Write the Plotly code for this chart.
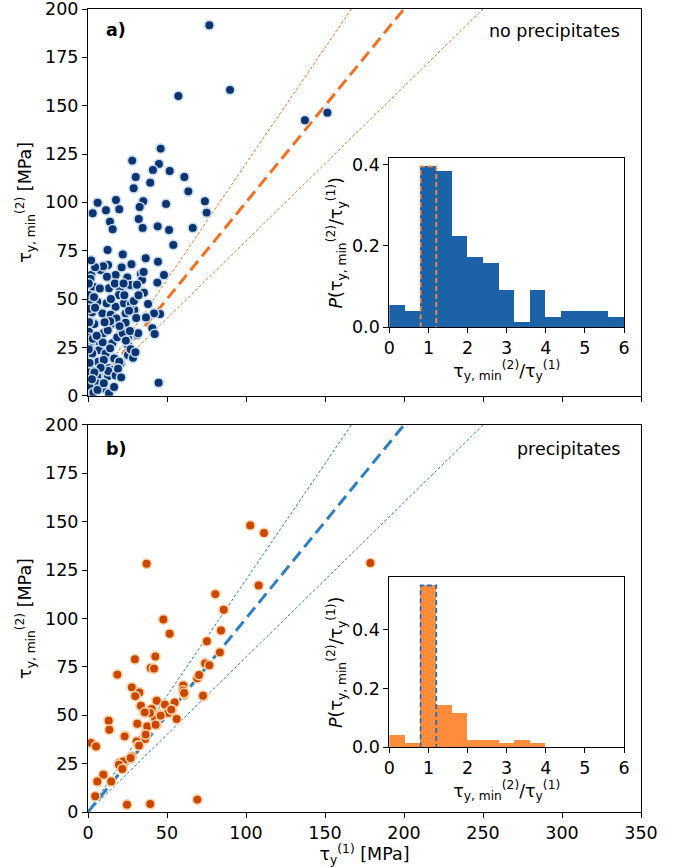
import plotly.graph_objects as go

# ---------------- data ----------------
# panel a) no precipitates
a_x = [76.8, 57.2, 89.9, 137.3, 151.5, 46, 28, 44.9, 41.1, 51.7, 30.2, 61, 39.4, 28.9, 63.5,
       6.1, 17.7, 35, 32.7, 11.4, 19.8, 3, 49.4, 74, 75.1, 32.1, 13.9, 44.1, 66.3, 15.6, 34.6,
       51.3, 54, 12.4, 22, 36.5,
       2.1, 8, 12.7, 21.3, 17.5, 24.9, 33.5, 44.3, 48.1, 43.9, 3.4, 13.3, 20.3, 19.6, 27, 35.4,
       5.9, 1.3, 11.8, 17.5, 22.8, 29.1, 23.8, 2.5, 9.1, 36.5, 45.6, 41.8, 4.2, 16, 23.8, 40.7,
       42.2, 31.2, 0.6, 9.7, 21.1, 25.3, 2.1, 7.6, 15.4, 18.5, 25.3, 7, 1.7, 11.2, 16.5, 25.3,
       20.7, 6.3, 13.3, 15.4, 5.9, 11.8, 1.7, 9.1, 3.4, 13.3, 44.7, 1.5, 34.2, 26.6, 14.4, 29.3,
       36.7, 4, 22, 1.1, 31.8, 9.3, 2.7, 6.5, 16.6, 19.8, 12.7, 12.8, 6.5, 27.2, 0.9, 1.2,
       0.5, 0.8, 1.0, 0.7, 1.2, 0.5, 1.0, 0.6, 3.8, 4.5, 9.6, 35.2, 14.5, 18, 20, 26.5, 24,
       27, 28.5, 14, 10, 8, 4, 17.5, 19, 3, 5.5, 12.5, 14, 10.5, 7.5, 23, 29, 32, 30.5, 31,
       38, 26, 17, 22.5, 4.5, 2, 27.5, 12, 30, 6, 10, 16.5, 2.5, 21]
a_y = [191.6, 155, 158.2, 142.5, 146.4, 127.8, 121.6, 119.9, 116.8, 116.2, 113.1, 113.1, 110.2,
       107.3, 105.7, 99.8, 101.2, 100.6, 97.6, 95.9, 96.4, 94.4, 99.2, 100.6, 94.7, 91.4, 90,
       87.6, 86.8, 86.1, 86.8, 85.7, 78, 75.4, 73.1, 71.1,
       62.4, 65, 67.6, 66.4, 62.4, 61.2, 63, 69.3, 62.4, 58.5, 56.4, 55.6, 55.6, 52.1, 56.8, 53.3,
       48.6, 47.8, 47.8, 46, 47.8, 44.3, 42.6, 43.1, 42.6, 40.5, 42.3, 42.6, 37.4, 37.4, 37.8,
       34.9, 31.9, 31.4, 33.1, 32.3, 32.6, 30.2, 27.9, 27.4, 27.1, 30.2, 26.2, 23.6, 21.1, 21.9,
       19.3, 21.1, 16.8, 17.1, 14.2, 13.3, 9.8, 10.7, 5, 3.8, 1.6, 1.2, 6.7, 60.5, 59.9, 57.3,
       41.9, 44.3, 40.5, 37.1, 32.3, 38.5, 32.3, 27.6, 21.9, 17.6, 19.3, 17.6, 10.2, 12.8, 6.4,
       47.4, 25.0, 14.0,
       58, 52, 45, 38, 30, 24, 17, 12, 51, 45.5, 67, 64, 50, 40, 36, 33.5, 28.5,
       24, 19.6, 24.5, 18.5, 14.5, 12, 10.5, 14, 29.5, 31, 33.8, 38.5, 38, 55.5, 52, 49, 52,
       40.2, 57.4, 47.4, 44, 58, 58, 66.5, 70, 68, 61.5, 22.5, 3, 6.5, 4.5, 8.5, 9.5]

# panel b) precipitates
b_x = [102.7, 111.4, 37.1, 108, 80.6, 85.9, 47.7, 51.7, 84.2, 75.3, 83.5, 29.7, 42.6, 39.7,
       41.8, 74.1, 76.8, 18.6, 69.2, 70.3, 60.3, 61, 60.3, 27.7, 32.5, 29.9, 73, 43.5, 33.4,
       35.6, 48.7, 54.9, 50.8, 53.2, 40.3, 45.1, 42.4, 39.2, 56.1, 43.5, 31.2, 37.1, 13.1, 13.5,
       23.4, 36.7, 36.1, 30.8, 31.8, 1.9, 5.1, 27.7, 26.6, 19.8, 22.3, 22, 9.7, 14.7, 5.9, 4.6,
       24.7, 39.4, 69.2, 178.7, 33.5, 52.7, 37.5, 42.8, 23.2, 36.5, 32.3, 27, 19.6, 21.7, 60.8,
       72.8, 35.9, 46]
b_y = [148.1, 144.2, 128.3, 117.1, 112.6, 104.5, 99.5, 92.1, 93.8, 88.2, 82.5, 78.9, 80.4, 74.4,
       74.1, 76.8, 75.8, 71, 69.1, 70.8, 65.4, 60.6, 62.8, 64.4, 61.8, 59.9, 59.9, 57.5, 54.6,
       51.2, 55.5, 56.6, 51.2, 52.9, 53.2, 50.3, 48.6, 51.2, 48.1, 45.1, 45.6, 44.2, 47.2, 42.5,
       39.4, 40.8, 37.7, 36.5, 34.4, 35.7, 33.9, 28.7, 27.4, 25.3, 26.1, 22.7, 19.3, 15.8, 15.8,
       8.1, 3.8, 4.1, 6.4, 128.7, 54.9, 52.9, 44.2, 45.1, 39.1, 40, 34.3, 27.9, 24.4, 22.2, 61.5,
       60.1, 51.5, 49.8]

# reference lines y = s * x
ref_slopes = [0.8, 1.0, 1.2]
ref_x = [0, 350]

# histograms of the ratio (bin width 0.4, 0..6)
bin_edges = [0, 0.4, 0.8, 1.2, 1.6, 2.0, 2.4, 2.8, 3.2, 3.6, 4.0, 4.4, 4.8, 5.2, 5.6, 6.0]
hist_a = [0.053, 0.040, 0.395, 0.383, 0.224, 0.172, 0.158, 0.091, 0.013, 0.091,
          0.025, 0.040, 0.040, 0.040, 0.025]
hist_b = [0.040, 0.0125, 0.55, 0.144, 0.117, 0.025, 0.025, 0.0125, 0.025, 0.0125,
          0, 0, 0, 0, 0]
box_bin = 2  # bin 0.8-1.2 highlighted

x_ticks = [0, 50, 100, 150, 200, 250, 300, 350]
y_ticks = [0, 25, 50, 75, 100, 125, 150, 175, 200]
inset_x_ticks = [0, 1, 2, 3, 4, 5, 6]
inset_y_ticks = [0.0, 0.2, 0.4]

# ---------------- styles ----------------
FONT = "DejaVu Sans"
FS = 17.5
BLUE_DARK = "#0b3470"
BLUE_EDGE = "#c6dbef"
ORANGE_DARK = "#c94703"
ORANGE_EDGE = "#fdd0a2"
LINE_ORANGE = "#f3701e"
LINE_BLUE = "#2f7fc0"
HIST_BLUE = "#1c62a8"
HIST_ORANGE = "#fd8d3c"

fig = go.Figure()

centers = [(bin_edges[i] + bin_edges[i + 1]) / 2 for i in range(len(bin_edges) - 1)]
widths = [bin_edges[i + 1] - bin_edges[i] for i in range(len(bin_edges) - 1)]


def add_panel(xs, ys, xa, ya, fill, edge, lcol, hist, hcol, boxcol, xi, yi):
    # reference lines
    for s in ref_slopes:
        thick = (s == 1.0)
        fig.add_trace(go.Scatter(
            x=ref_x, y=[s * v for v in ref_x], mode="lines", xaxis=xa, yaxis=ya,
            line=dict(color=lcol, width=3 if thick else 1,
                      dash="12px,6px" if thick else "3px,2px"),
            showlegend=False, hoverinfo="skip"))
    fig.add_trace(go.Scatter(
        x=xs, y=ys, mode="markers", xaxis=xa, yaxis=ya,
        marker=dict(size=9.5, color=fill, line=dict(color=edge, width=1.6)),
        showlegend=False, cliponaxis=True))
    fig.add_trace(go.Bar(
        x=centers, y=hist, width=widths, xaxis=xi, yaxis=yi,
        marker=dict(color=hcol, line=dict(width=0)), showlegend=False))
    lo, hi = bin_edges[box_bin], bin_edges[box_bin + 1]
    h = hist[box_bin]
    fig.add_trace(go.Scatter(
        x=[lo, lo, hi, hi], y=[0, h, h, 0], mode="lines", xaxis=xi, yaxis=yi,
        line=dict(color=boxcol, width=1.8, dash="5px,3px"),
        showlegend=False, hoverinfo="skip"))


add_panel(a_x, a_y, "x2", "y2", BLUE_DARK, BLUE_EDGE, LINE_ORANGE, hist_a, HIST_BLUE,
          HIST_ORANGE, "x3", "y3")
add_panel(b_x, b_y, "x", "y", ORANGE_DARK, ORANGE_EDGE, LINE_BLUE, hist_b, HIST_ORANGE,
          "#2c6db3", "x4", "y4")

axis_common = dict(showline=True, linecolor="black", linewidth=1, mirror=True,
                   ticks="outside", ticklen=5, tickwidth=1, tickcolor="black",
                   showgrid=False, zeroline=False, automargin=False,
                   ticklabeloverflow="allow",
                   tickfont=dict(family=FONT, size=FS, color="black"))

ytitle = "τ<sub>y, min</sub><sup>(2)</sup> [MPa]"
ratio = "τ<sub>y, min</sub><sup>(2)</sup>/τ<sub>y</sub><sup>(1)</sup>"

fig.update_layout(
    width=687, height=867,
    margin=dict(l=88, r=46, t=9, b=55, autoexpand=False),
    paper_bgcolor="white", plot_bgcolor="white",
    bargap=0,
    font=dict(family=FONT, size=FS, color="black"),
    xaxis=dict(domain=[0, 1], anchor="y", range=[0, 350], tickvals=x_ticks,
               title=dict(text="τ<sub>y</sub><sup>(1)</sup> [MPa]", standoff=0,
                          font=dict(family=FONT, size=FS)),
               **axis_common),
    yaxis=dict(domain=[0, 0.482], anchor="x", range=[0, 200], tickvals=y_ticks,
               title=dict(text=ytitle, standoff=8, font=dict(family=FONT, size=FS)),
               **axis_common),
    xaxis2=dict(domain=[0, 1], anchor="y2", range=[0, 350], tickvals=x_ticks,
                showticklabels=False, matches="x", **axis_common),
    yaxis2=dict(domain=[0.5184, 1.0], anchor="x2", range=[0, 200], tickvals=y_ticks,
                title=dict(text=ytitle, standoff=8, font=dict(family=FONT, size=FS)),
                **axis_common),
    xaxis3=dict(domain=[0.5449, 0.9693], anchor="y3", range=[0, 6], tickvals=inset_x_ticks,
                title=dict(text=ratio, standoff=0, font=dict(family=FONT, size=FS)),
                **axis_common),
    yaxis3=dict(domain=[0.6036, 0.8141], anchor="x3", range=[0, 0.415],
                tickvals=inset_y_ticks, tickformat=".1f",
                title=dict(text="<i>P</i>(" + ratio + ")",
                           standoff=4, font=dict(family=FONT, size=FS)),
                **axis_common),
    xaxis4=dict(domain=[0.5449, 0.9693], anchor="y4", range=[0, 6], tickvals=inset_x_ticks,
                title=dict(text=ratio, standoff=0, font=dict(family=FONT, size=FS)),
                **axis_common),
    yaxis4=dict(domain=[0.0806, 0.2923], anchor="x4", range=[0, 0.578],
                tickvals=inset_y_ticks, tickformat=".1f",
                title=dict(text="<i>P</i>(" + ratio + ")",
                           standoff=4, font=dict(family=FONT, size=FS)),
                **axis_common),
)

ann = dict(showarrow=False, xref="paper", yref="paper", font=dict(family=FONT, size=FS, color="black"))
fig.add_annotation(text="<b>a)</b>", x=0.029, y=0.974, xanchor="left", yanchor="middle", **ann)
fig.add_annotation(text="no precipitates", x=0.966, y=0.973, xanchor="right", yanchor="middle", **ann)
fig.add_annotation(text="<b>b)</b>", x=0.029, y=0.452, xanchor="left", yanchor="middle", **ann)
fig.add_annotation(text="precipitates", x=0.966, y=0.452, xanchor="right", yanchor="middle", **ann)

fig.write_html("out.html")
